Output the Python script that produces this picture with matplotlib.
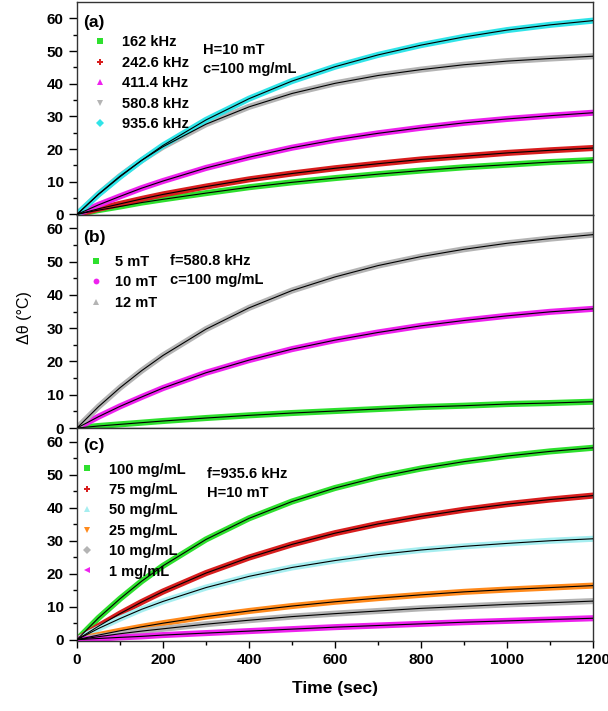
import numpy as np
import matplotlib
matplotlib.use("Agg")
import matplotlib.pyplot as plt
from matplotlib.lines import Line2D

plt.rcParams['font.family'] = ['Liberation Sans', 'DejaVu Sans']

# time axis (sec) shared by every series
time_s = [0, 50, 100, 150, 200, 300, 400, 500, 600, 700, 800, 900, 1000, 1100, 1200]

# (a) frequency series, H=10 mT, c=100 mg/mL
freq_labels = ['162 kHz', '242.6 kHz', '411.4 kHz', '580.8 kHz', '935.6 kHz']
freq_162 = [0, 1.3, 2.4, 3.6, 4.6, 6.5, 8.3, 9.8, 11.1, 12.3, 13.4, 14.4, 15.2, 16.0, 16.6]
freq_242 = [0, 1.7, 3.2, 4.7, 6.1, 8.5, 10.7, 12.5, 14.1, 15.5, 16.8, 17.8, 18.8, 19.6, 20.3]
freq_411 = [0, 2.9, 5.5, 8.0, 10.2, 14.2, 17.5, 20.4, 22.8, 24.8, 26.5, 28.0, 29.2, 30.2, 31.1]
freq_580 = [0, 6.2, 11.7, 16.5, 20.7, 27.6, 32.9, 37.0, 40.1, 42.5, 44.3, 45.8, 46.9, 47.7, 48.4]
freq_935 = [0, 6.1, 11.5, 16.5, 21.1, 28.9, 35.4, 40.8, 45.2, 48.8, 51.8, 54.3, 56.4, 58.0, 59.3]

# (b) field series, f=580.8 kHz
field_labels = ['5 mT', '10 mT', '12 mT']
field_5 = [0, 0.6, 1.1, 1.6, 2.1, 3.0, 3.8, 4.5, 5.1, 5.7, 6.3, 6.7, 7.2, 7.5, 7.9]
field_10 = [0, 3.4, 6.5, 9.3, 12.0, 16.6, 20.4, 23.7, 26.4, 28.7, 30.7, 32.3, 33.7, 34.9, 35.8]
field_12 = [0, 6.4, 12.1, 17.2, 21.8, 29.7, 36.1, 41.3, 45.4, 48.8, 51.5, 53.7, 55.5, 56.9, 58.1]

# (c) concentration series, f=935.6 kHz, H=10 mT
conc_labels = ['100 mg/mL', '75 mg/mL', '50 mg/mL', '25 mg/mL', '10 mg/mL', '1 mg/mL']
conc_100 = [0, 6.6, 12.4, 17.7, 22.4, 30.4, 36.8, 41.9, 46.0, 49.3, 51.9, 54.0, 55.7, 57.1, 58.2]
conc_75 = [0, 4.1, 7.9, 11.4, 14.6, 20.2, 24.9, 28.9, 32.3, 35.1, 37.4, 39.4, 41.1, 42.5, 43.7]
conc_50 = [0, 3.4, 6.4, 9.2, 11.6, 15.8, 19.2, 21.9, 24.0, 25.8, 27.2, 28.3, 29.2, 30.0, 30.6]
conc_25 = [0, 1.4, 2.7, 3.9, 5.0, 7.0, 8.7, 10.2, 11.5, 12.6, 13.6, 14.5, 15.2, 15.8, 16.4]
conc_10 = [0, 0.9, 1.8, 2.6, 3.3, 4.7, 5.9, 7.0, 7.9, 8.7, 9.5, 10.1, 10.7, 11.2, 11.7]
conc_1 = [0, 0.36, 0.7, 1.0, 1.4, 2.0, 2.6, 3.2, 3.8, 4.3, 4.8, 5.3, 5.7, 6.1, 6.5]

GREEN, RED, MAGENTA, GREY, CYAN = '#2ee02e', '#d81e1e', '#ee22ee', '#b4b4b4', '#30e4e8'
ORANGE, LCYAN = '#ff8a1c', '#a6eef0'

panels = [
    dict(tag='(a)', tag_y=0.902, labels=freq_labels,
         series=[freq_162, freq_242, freq_411, freq_580, freq_935],
         colors=[GREEN, RED, MAGENTA, GREY, CYAN],
         markers=['s', 'P', '^', 'v', 'D'],
         notes=['H=10 mT', 'c=100 mg/mL'], note_xy=(0.244, 0.775),
         leg=dict(x=0.030, y=0.843, pad=1.05), ylim=(-0.2, 65)),
    dict(tag='(b)', tag_y=0.896, labels=field_labels,
         series=[field_5, field_10, field_12],
         colors=[GREEN, MAGENTA, GREY],
         markers=['s', 'o', '^'],
         notes=['f=580.8 kHz', 'c=100 mg/mL'], note_xy=(0.180, 0.783),
         leg=dict(x=0.023, y=0.812, pad=0.80), ylim=(0, 64)),
    dict(tag='(c)', tag_y=0.917, labels=conc_labels,
         series=[conc_100, conc_75, conc_50, conc_25, conc_10, conc_1],
         colors=[GREEN, RED, LCYAN, ORANGE, GREY, MAGENTA],
         markers=['s', 'P', '^', 'v', 'D', '<'],
         notes=['f=935.6 kHz', 'H=10 mT'], note_xy=(0.252, 0.786),
         leg=dict(x=0.005, y=0.838, pad=1.0), ylim=(-0.4, 64.2)),
]

fig = plt.figure(figsize=(6.08, 7.11), dpi=100)
left, width = 77 / 608, 516 / 608
top_px, h_px = 2, 213.0
axes = []
for i in range(3):
    y0 = 1 - (top_px + (i + 1) * h_px) / 711
    axes.append(fig.add_axes([left, y0, width, h_px / 711]))

for ax, p in zip(axes, panels):
    handles = []
    for vals, col, mk, lab in zip(p['series'], p['colors'], p['markers'], p['labels']):
        ax.plot(time_s, vals, color=col, lw=4.4, solid_capstyle='round', zorder=2)
        ax.plot(time_s, vals, color='black', lw=0.8, zorder=3)
        handles.append(Line2D([], [], ls='none', marker=mk, color=col, markersize=4.2,
                              markeredgewidth=0, label=lab))
    lg = p['leg']
    ax.legend(handles=handles, loc='upper left', bbox_to_anchor=(lg['x'], lg['y']),
              frameon=False, borderpad=0, borderaxespad=0, handlelength=1.0,
              handletextpad=lg['pad'], labelspacing=0.44,
              prop=dict(size=10.5, weight='bold'))
    ax.text(0.012, p['tag_y'], p['tag'], transform=ax.transAxes, fontsize=12.5,
            fontweight='bold', va='center')
    nx, ny = p['note_xy']
    ax.text(nx, ny, p['notes'][0], transform=ax.transAxes, fontsize=10.5,
            fontweight='bold', va='center')
    ax.text(nx, ny - 0.089, p['notes'][1], transform=ax.transAxes, fontsize=10.5,
            fontweight='bold', va='center')

    ax.set_xlim(0, 1200)
    ax.set_ylim(*p['ylim'])
    ax.set_yticks(np.arange(0, 61, 10))
    ax.set_yticks(np.arange(0, 61, 5), minor=True)
    ax.tick_params(axis='y', which='major', direction='out', length=5.5, width=1,
                   labelsize=11, pad=4)
    ax.tick_params(axis='y', which='minor', direction='out', length=3, width=1)
    for lbl in ax.get_yticklabels():
        lbl.set_fontweight('bold')
    for sp in ax.spines.values():
        sp.set_color('#333333')
        sp.set_linewidth(1.0)

for ax in axes[:2]:
    ax.set_xticks([])
    ax.tick_params(axis='x', which='both', bottom=False, labelbottom=False)

axb = axes[2]
axb.set_xticks(np.arange(0, 1201, 200))
axb.set_xticks(np.arange(0, 1201, 100), minor=True)
axb.tick_params(axis='x', which='major', direction='out', length=5, width=1,
                labelsize=11, pad=4)
axb.tick_params(axis='x', which='minor', direction='out', length=3, width=1)
for lbl in axb.get_xticklabels():
    lbl.set_fontweight('bold')
axb.set_xlabel('Time (sec)', fontsize=12.5, fontweight='bold', labelpad=10)

fig.text(25 / 608, 1 - 318 / 711, 'Δθ (°C)', rotation=90, fontsize=11.5,
         va='center', ha='center')

fig.savefig('out.png', dpi=100)
